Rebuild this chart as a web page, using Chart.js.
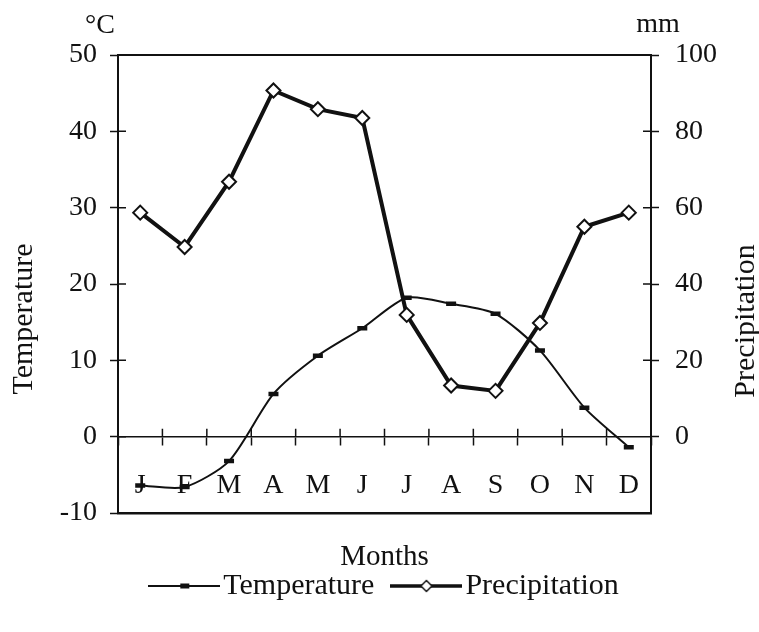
<!DOCTYPE html>
<html>
<head>
<meta charset="utf-8">
<script src="https://cdn.jsdelivr.net/npm/chart.js@4.4.1/dist/chart.umd.min.js"></script>
<style>
  html, body { margin: 0; padding: 0; background: #fff; }
  #chart { display: block; }
</style>
</head>
<body>
<canvas id="chart" width="759" height="632"></canvas>
<script>
// monthly climate values
const months = ['J', 'F', 'M', 'A', 'M', 'J', 'J', 'A', 'S', 'O', 'N', 'D'];
const temperature = [-6.4, -6.6, -3.2, 5.6, 10.6, 14.2, 18.2, 17.4, 16.1, 11.3, 3.8, -1.4];
const precipitation = [58.7, 49.7, 66.8, 90.7, 85.8, 83.5, 31.9, 13.4, 12.0, 29.8, 55.0, 58.7];

const INK = '#111';
const FONT = "'Liberation Serif', 'Times New Roman', serif";

Chart.defaults.font.family = FONT;
Chart.defaults.font.size = 28;
Chart.defaults.color = INK;

// little line+marker glyphs for the legend
function legendIcon(kind) {
    const c = document.createElement('canvas');
    c.width = 72;
    c.height = 16;
    const g = c.getContext('2d');
    g.strokeStyle = INK;
    g.lineWidth = kind === 'temp' ? 2 : 3.5;
    g.beginPath();
    g.moveTo(0, 8);
    g.lineTo(72, 8);
    g.stroke();
    if (kind === 'temp') {
        g.fillStyle = INK;
        g.fillRect(32, 5.5, 9, 5);
    } else {
        g.fillStyle = '#fff';
        g.lineWidth = 1.5;
        g.beginPath();
        g.moveTo(36, 2.5); g.lineTo(41.5, 8); g.lineTo(36, 13.5); g.lineTo(30.5, 8);
        g.closePath();
        g.fill();
        g.stroke();
    }
    return c;
}
const legendIcons = [legendIcon('temp'), legendIcon('precip')];

// inner halves of the crossing ticks, unit labels and the side titles
const extras = {
    id: 'extras',
    afterDraw(chart) {
        const { ctx, chartArea: area, scales } = chart;
        const x = scales.x, y = scales.y, y1 = scales.y1;
        const zero = y.getPixelForValue(0);
        ctx.save();
        ctx.strokeStyle = INK;
        ctx.lineWidth = 1.5;
        ctx.beginPath();
        for (let i = 1; i < months.length; i++) {
            const px = (x.getPixelForValue(i - 1) + x.getPixelForValue(i)) / 2;
            ctx.moveTo(px, zero - 8);
            ctx.lineTo(px, zero);
        }
        y.ticks.forEach(t => {
            if (t.value > y.min && t.value < y.max) {
                const py = y.getPixelForValue(t.value);
                ctx.moveTo(area.left, py);
                ctx.lineTo(area.left + 8, py);
            }
        });
        y1.ticks.forEach(t => {
            if (t.value > 0 && t.value < y1.max) {
                const py = y1.getPixelForValue(t.value);
                ctx.moveTo(area.right - 8, py);
                ctx.lineTo(area.right, py);
            }
        });
        ctx.stroke();

        ctx.fillStyle = INK;
        ctx.textAlign = 'center';
        ctx.textBaseline = 'middle';
        ctx.font = '28px ' + FONT;
        ctx.fillText('°C', area.left - 18, 26);
        ctx.fillText('mm', area.right + 7, 25);

        ctx.font = '30px ' + FONT;
        ctx.save();
        ctx.translate(24, 319);
        ctx.rotate(-Math.PI / 2);
        ctx.fillText('Temperature', 0, 0);
        ctx.restore();
        ctx.save();
        ctx.translate(746, 321);
        ctx.rotate(-Math.PI / 2);
        ctx.fillText('Precipitation', 0, 0);
        ctx.restore();
        ctx.restore();
    }
};

new Chart(document.getElementById('chart'), {
    type: 'line',
    data: {
        labels: months,
        datasets: [{
            label: 'Temperature',
            data: temperature,
            yAxisID: 'y',
            borderColor: INK,
            borderWidth: 2,
            tension: 0.25,
            pointStyle: 'line',
            pointRadius: 5,
            pointBorderWidth: 4.5,
            pointBorderColor: INK
        }, {
            label: 'Precipitation',
            data: precipitation,
            yAxisID: 'y1',
            borderColor: INK,
            borderWidth: 4,
            tension: 0,
            pointStyle: 'rectRot',
            pointRadius: 7,
            pointBorderWidth: 2,
            pointBorderColor: INK,
            pointBackgroundColor: '#fff'
        }]
    },
    options: {
        responsive: false,
        animation: false,
        layout: { padding: { top: 55, bottom: 21, left: 20, right: 0 } },
        plugins: {
            tooltip: { enabled: false },
            legend: {
                position: 'bottom',
                labels: {
                    usePointStyle: true,
                    pointStyleWidth: 48,
                    padding: 28,
                    color: INK,
                    font: { size: 30 },
                    generateLabels: chart => chart.data.datasets.map((ds, i) => ({
                        text: ds.label,
                        pointStyle: legendIcons[i],
                        datasetIndex: i,
                        fontColor: INK,
                        fillStyle: 'transparent',
                        strokeStyle: 'transparent',
                        lineWidth: 0,
                        hidden: false
                    }))
                }
            }
        },
        scales: {
            x: {
                type: 'category',
                position: { y: 0 },
                offset: true,
                grid: {
                    offset: true,
                    drawOnChartArea: false,
                    tickLength: 8,
                    tickWidth: 1.5,
                    tickColor: INK
                },
                border: { color: INK, width: 1.5 },
                ticks: { padding: 24, color: INK, font: { size: 28 } },
                title: {
                    display: true,
                    text: 'Months',
                    color: INK,
                    font: { size: 29 },
                    padding: { top: 14, bottom: 0 }
                }
            },
            xb: {
                type: 'category',
                position: 'bottom',
                grid: { display: false },
                ticks: { display: false },
                border: { color: INK, width: 2.5 },
                afterFit: s => { s.height = 30; }
            },
            xt: {
                type: 'category',
                position: 'top',
                grid: { display: false },
                ticks: { display: false },
                border: { color: INK, width: 2 },
                afterFit: s => { s.height = 0; }
            },
            y: {
                position: 'left',
                min: -10,
                max: 50,
                ticks: { stepSize: 10, padding: 13, color: INK, font: { size: 28 } },
                grid: { drawOnChartArea: false, tickLength: 8, tickWidth: 1.5, tickColor: INK },
                border: { color: INK, width: 2 },
                afterFit: s => { s.width = 98; }
            },
            y1: {
                position: 'right',
                min: -20,
                max: 100,
                ticks: {
                    stepSize: 20,
                    padding: 16,
                    color: INK,
                    font: { size: 28 },
                    callback: v => (v < 0 ? '' : v)
                },
                grid: {
                    drawOnChartArea: false,
                    tickLength: 8,
                    tickWidth: 1.5,
                    tickColor: c => (c.tick && c.tick.value < 0 ? 'transparent' : INK)
                },
                border: { color: INK, width: 2 },
                afterFit: s => { s.width = 108; }
            }
        }
    },
    plugins: [extras]
});
</script>
</body>
</html>
